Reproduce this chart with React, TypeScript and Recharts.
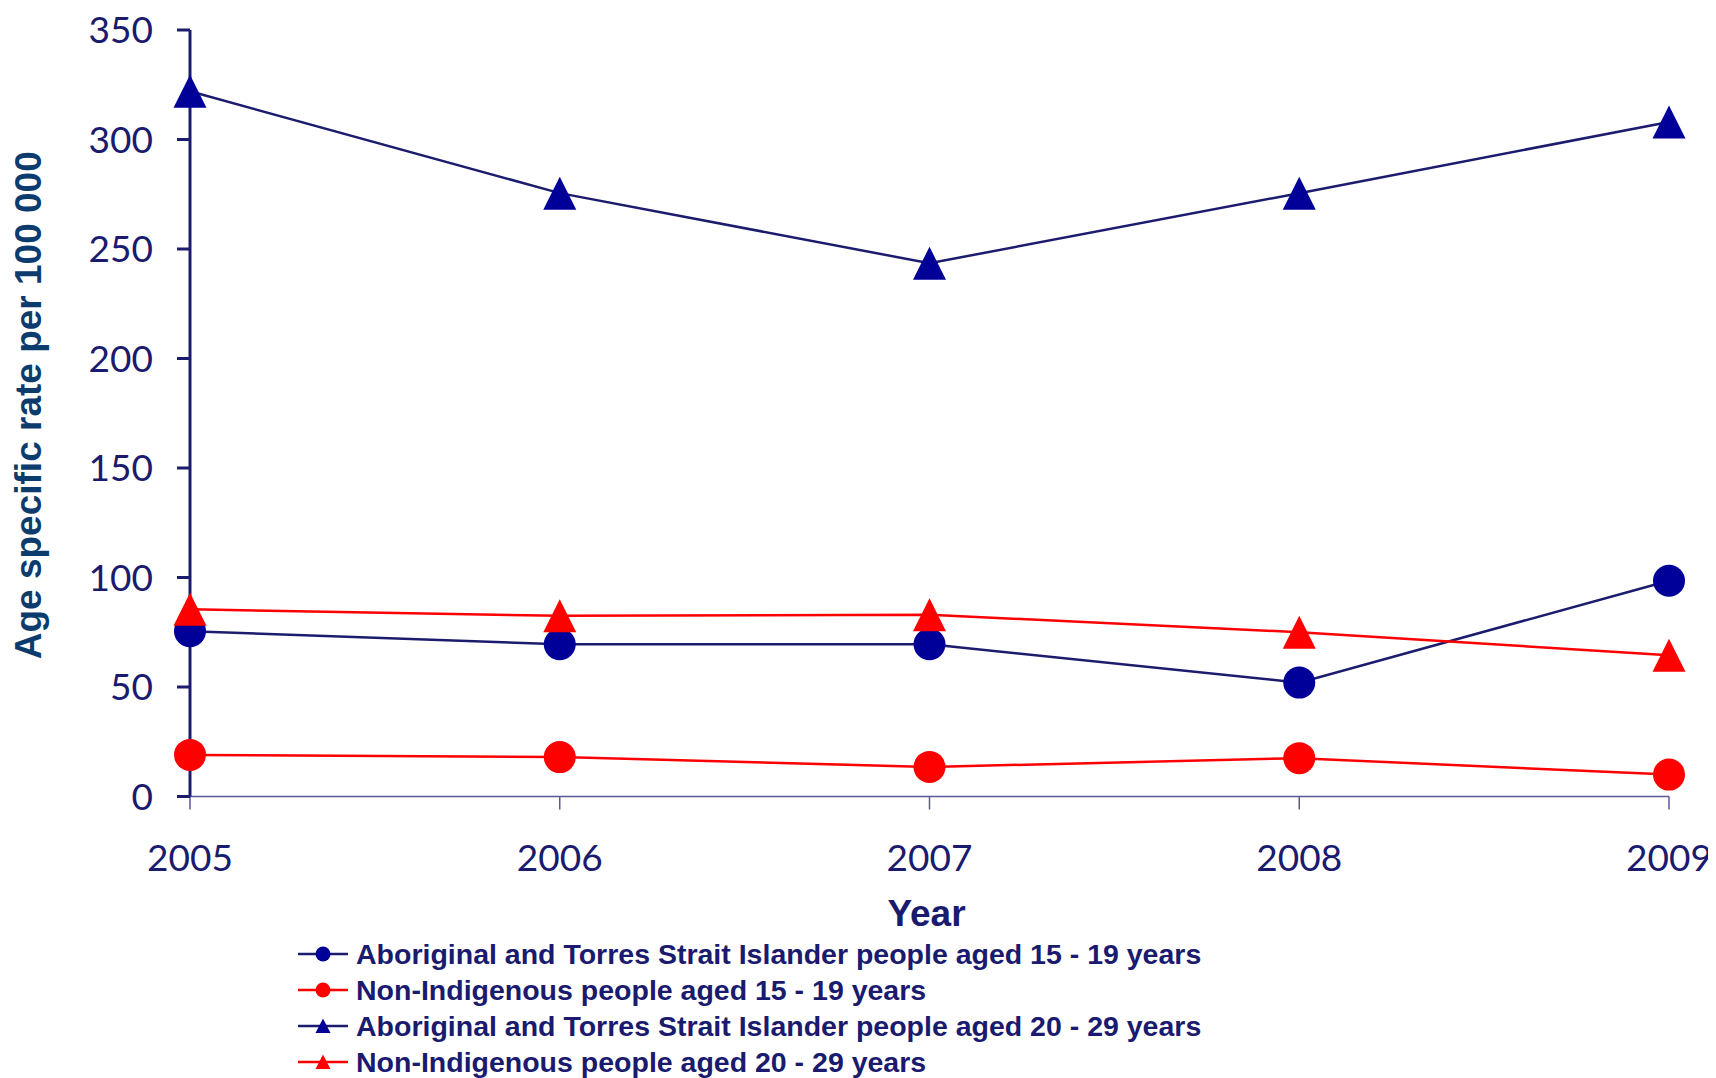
import { LineChart, Line, XAxis, YAxis, Legend, Label } from 'recharts'

// years on the x axis
const years = [2005, 2006, 2007, 2008, 2009]

// age specific rate per 100 000
const atsi1519 = [75.5, 69.5, 69.5, 52, 98.5]
const nonInd1519 = [19, 18, 13.5, 17.5, 10]
const atsi2029 = [322, 275.5, 243.5, 275.5, 308]
const nonInd2029 = [85.5, 82.5, 83, 75, 64.5]

const yTicks = [0, 50, 100, 150, 200, 250, 300, 350]

const NAVY = '#1c1c6e'
const MARKER_BLUE = '#000099'
const RED = '#ff0000'
const TEXT = '#1a1a6e'
const TITLE = '#0c3c6e'
const AXIS_X = '#5a5a96'

type Shape = 'circle' | 'triangle'

const series: { key: string; name: string; line: string; fill: string; shape: Shape }[] = [
  { key: 'atsi1519', name: 'Aboriginal and Torres Strait Islander people aged 15 - 19 years', line: NAVY, fill: MARKER_BLUE, shape: 'circle' },
  { key: 'nonInd1519', name: 'Non-Indigenous people aged 15 - 19 years', line: RED, fill: RED, shape: 'circle' },
  { key: 'atsi2029', name: 'Aboriginal and Torres Strait Islander people aged 20 - 29 years', line: NAVY, fill: MARKER_BLUE, shape: 'triangle' },
  { key: 'nonInd2029', name: 'Non-Indigenous people aged 20 - 29 years', line: RED, fill: RED, shape: 'triangle' },
]

const data = years.map((year, i) => ({
  year,
  atsi1519: atsi1519[i],
  nonInd1519: nonInd1519[i],
  atsi2029: atsi2029[i],
  nonInd2029: nonInd2029[i],
}))

// marker drawn at each point
const makeDot = (shape: Shape, fill: string) => (props: any) => {
  const { cx, cy, index } = props
  if (cx == null || cy == null) return <g key={index} />
  if (shape === 'circle') return <circle key={index} cx={cx} cy={cy} r={16} fill={fill} />
  const h = 16.5
  return (
    <polygon
      key={index}
      points={`${cx},${cy - h} ${cx + h},${cy + h} ${cx - h},${cy + h}`}
      fill={fill}
    />
  )
}

const renderLegend = () => (
  <div
    style={{
      fontFamily: "'Liberation Sans', Arial, sans-serif",
      fontWeight: 700,
      fontSize: 28.5,
      color: TEXT,
    }}
  >
    {series.map((s) => (
      <div key={s.key} style={{ display: 'flex', alignItems: 'center', height: 36, whiteSpace: 'nowrap' }}>
        <svg width={58} height={36} style={{ flex: 'none' }}>
          <line x1={0} x2={50} y1={18} y2={18} stroke={s.line} strokeWidth={2.5} />
          {s.shape === 'circle' ? (
            <circle cx={25} cy={18} r={7.5} fill={s.fill} />
          ) : (
            <polygon points="25,10.5 32.5,25 17.5,25" fill={s.fill} />
          )}
        </svg>
        <span>{s.name}</span>
      </div>
    ))}
  </div>
)

export default function App() {
  return (
    <div style={{ width: 1708, height: 1070 }}>
      <LineChart
        width={1708}
        height={1070}
        data={data}
        margin={{ top: 22, right: 47, bottom: 141.5, left: 0 }}
        style={{ overflow: 'visible' }}
      >
        <XAxis
          dataKey="year"
          type="number"
          domain={[2005, 2009]}
          ticks={years}
          height={140}
          axisLine={{ stroke: AXIS_X, strokeWidth: 1.5 }}
          tickLine={{ stroke: AXIS_X, strokeWidth: 1.5 }}
          tickSize={13}
          tickMargin={35}
          tick={{ fill: TEXT, fontSize: 37, fontFamily: 'Lato, sans-serif' }}
        >
          <Label
            content={(p: any) => {
              const vb = p.viewBox
              const x = vb.x + vb.width / 2 - 3
              const y = vb.y + 129.5
              return (
                <text
                  x={x}
                  y={y}
                  textAnchor="middle"
                  fill={TEXT}
                  fontSize={37}
                  fontWeight={700}
                  fontFamily="'Liberation Sans', Arial, sans-serif"
                >
                  Year
                </text>
              )
            }}
          />
        </XAxis>
        <YAxis
          type="number"
          domain={[0, 350]}
          ticks={yTicks}
          width={182}
          axisLine={{ stroke: NAVY, strokeWidth: 3 }}
          tickLine={{ stroke: NAVY, strokeWidth: 3 }}
          tickSize={13}
          tickMargin={24}
          tick={{ fill: TEXT, fontSize: 37, fontFamily: 'Lato, sans-serif' }}
        >
          <Label
            content={(p: any) => {
              const vb = p.viewBox
              const cy = vb.y + vb.height / 2 - 8
              return (
                <text
                  x={33}
                  y={cy}
                  transform={`rotate(-90 33 ${cy})`}
                  textAnchor="middle"
                  fill={TITLE}
                  fontSize={37}
                  fontWeight={700}
                  fontFamily="'Liberation Sans', Arial, sans-serif"
                >
                  Age specific rate per 100 000
                </text>
              )
            }}
          />
        </YAxis>
        {series.map((s) => (
          <Line
            key={s.key}
            dataKey={s.key}
            name={s.name}
            stroke={s.line}
            strokeWidth={2.5}
            dot={makeDot(s.shape, s.fill)}
            activeDot={false}
            isAnimationActive={false}
          />
        ))}
        <Legend
          layout="vertical"
          align="center"
          verticalAlign="middle"
          content={renderLegend}
          wrapperStyle={{ left: 290, top: 928, width: 'auto' }}
        />
      </LineChart>
    </div>
  )
}
